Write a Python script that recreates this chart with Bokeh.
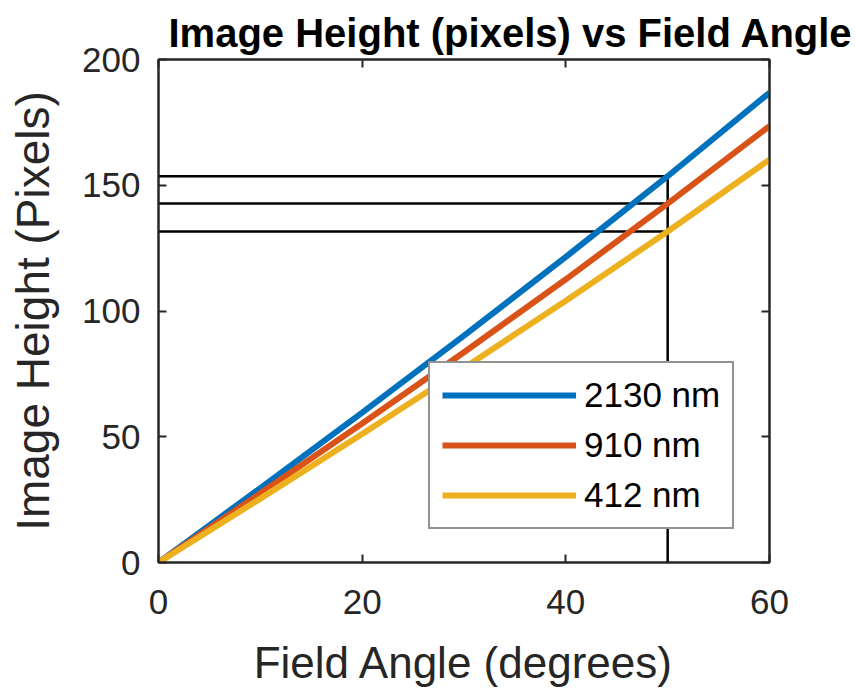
from bokeh.plotting import figure
from bokeh.embed import file_html
from bokeh.resources import INLINE
from bokeh.models import LinearAxis, FixedTicker, Legend, LegendItem, Range1d

# ---- data ----
angle_deg = [0, 10, 20, 30, 40, 50, 60]
height_2130 = [0, 29.6, 59.6, 90.2, 121.5, 153.6, 186.8]
height_910 = [0, 27.5, 55.3, 83.6, 112.6, 142.7, 173.5]
height_412 = [0, 25.4, 51.1, 77.3, 104.1, 131.6, 160.2]
series_labels = ["2130 nm", "910 nm", "412 nm"]
ref_angle = 50
ref_heights = [153.6, 142.7, 131.6]
x_ticks = [0, 20, 40, 60]
y_ticks = [0, 50, 100, 150, 200]
title_text = "Image Height (pixels) vs Field Angle"
x_label = "Field Angle (degrees)"
y_label = "Image Height (Pixels)"

colors = ["#0072BD", "#D95319", "#EDB120"]
FONT = "Liberation Sans"
AX = "#262626"

p = figure(width=855, height=689, output_backend="svg", toolbar_location=None,
           x_range=Range1d(0, 60), y_range=Range1d(0, 200),
           min_border_left=158, min_border_right=86, min_border_top=59,
           min_border_bottom=126)

p.title.text = title_text
p.title.text_font = FONT
p.title.text_font_size = "40px"
p.title.text_font_style = "bold"
p.title.text_color = "black"
p.title.align = "left"
p.title.offset = 10
p.title.vertical_align = "top"
p.title.standoff = 6

p.grid.visible = False
p.outline_line_color = AX
p.outline_line_width = 2
p.background_fill_color = "white"
p.border_fill_color = "white"

for ax, ticks in ((p.xaxis[0], x_ticks), (p.yaxis[0], y_ticks)):
    ax.ticker = FixedTicker(ticks=ticks)
    ax.major_tick_in = 8
    ax.major_tick_out = 0
    ax.minor_tick_line_color = None
    ax.axis_line_color = AX
    ax.axis_line_width = 2
    ax.major_tick_line_color = AX
    ax.major_tick_line_width = 2
    ax.major_label_text_font = FONT
    ax.major_label_text_font_size = "35px"
    ax.major_label_text_color = AX
    ax.axis_label_text_font = FONT
    ax.axis_label_text_font_style = "normal"
    ax.axis_label_text_color = AX

p.xaxis[0].axis_label = x_label
p.xaxis[0].axis_label_text_font_size = "44px"
p.xaxis[0].major_label_standoff = 27
p.xaxis[0].axis_label_standoff = 21
p.yaxis[0].axis_label = y_label
p.yaxis[0].axis_label_text_font_size = "46px"
p.yaxis[0].major_label_standoff = 18
p.yaxis[0].axis_label_standoff = 20

# box ticks on the top and right sides
for loc, ticks in (("right", y_ticks), ("above", x_ticks)):
    a = LinearAxis(ticker=FixedTicker(ticks=ticks), major_tick_in=8, major_tick_out=0,
                   minor_tick_line_color=None, axis_line_color=AX, axis_line_width=2,
                   major_tick_line_color=AX, major_tick_line_width=2,
                   major_label_text_alpha=0, major_label_text_font_size="8px",
                   major_label_standoff=0)
    p.add_layout(a, loc)

# reference lines
for h in ref_heights:
    p.line([0, ref_angle], [h, h], line_color="black", line_width=2.5)
p.line([ref_angle, ref_angle], [0, max(ref_heights)], line_color="black", line_width=2.5)

renderers = []
for ys, c in zip([height_2130, height_910, height_412], colors):
    r = p.line(angle_deg, ys, line_color=c, line_width=6)
    renderers.append(r)

legend = Legend(items=[LegendItem(label=l, renderers=[r]) for l, r in zip(series_labels, renderers)],
                location=(270, 33))
legend.label_text_font = FONT
legend.label_text_font_size = "35px"
legend.label_text_color = "black"
legend.glyph_width = 134
legend.glyph_height = 30
legend.label_standoff = 8
legend.spacing = 10
legend.padding = 12
legend.margin = 0
legend.border_line_color = AX
legend.border_line_width = 2
legend.background_fill_alpha = 1
p.add_layout(legend, "center")

open("out.html", "w").write(file_html(p, INLINE))
